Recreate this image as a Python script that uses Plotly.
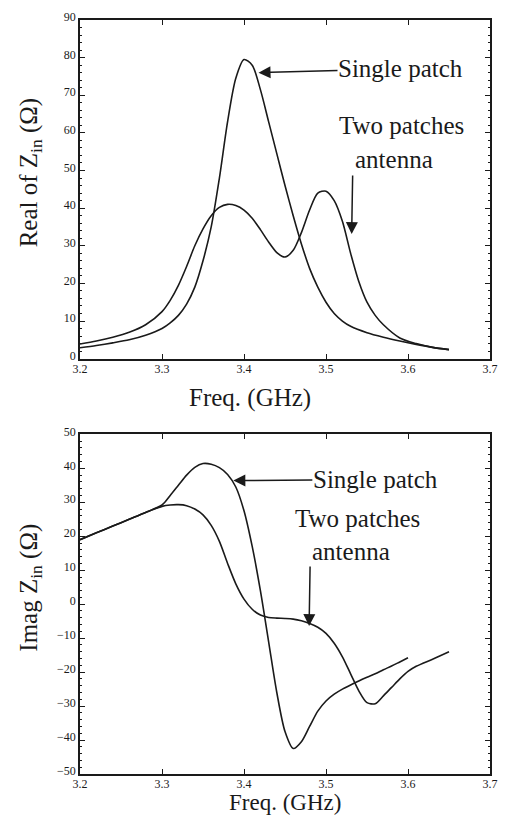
import plotly.graph_objects as go

# ---------------- data ----------------
freq_real_single = [3.20, 3.22, 3.24, 3.26, 3.28, 3.30, 3.31, 3.32, 3.33, 3.34, 3.35, 3.36, 3.37, 3.38,
                    3.39, 3.40, 3.41, 3.42, 3.43, 3.44, 3.45, 3.46, 3.47, 3.48, 3.49, 3.50, 3.51, 3.52,
                    3.53, 3.55, 3.57, 3.59, 3.61, 3.63, 3.65]
real_single = [2.9, 3.5, 4.2, 5.0, 6.2, 8.0, 9.5, 11.5, 14.5, 19, 26, 35, 48, 63,
               74.5, 79.5, 78, 71.5, 63, 54.5, 46, 38, 30.5, 24, 19, 15, 12, 10,
               8.6, 6.9, 5.7, 4.7, 3.8, 3.0, 2.4]

freq_real_two = [3.20, 3.22, 3.24, 3.26, 3.28, 3.30, 3.31, 3.32, 3.33, 3.34, 3.35, 3.36, 3.37, 3.38,
                 3.39, 3.40, 3.41, 3.42, 3.43, 3.44, 3.45, 3.46, 3.47, 3.48, 3.49, 3.50, 3.51, 3.52,
                 3.53, 3.54, 3.55, 3.56, 3.57, 3.59, 3.61, 3.63, 3.65]
real_two = [3.9, 4.7, 5.7, 7.0, 9.0, 12.5, 15.5, 19.5, 24.5, 30, 34.5, 38, 40.2, 41,
            40.7, 39.5, 37.3, 34.3, 31, 28.2, 27, 28.8, 33.5, 39.5, 44, 44.5, 42, 36.5,
            28, 20.5, 15, 11.5, 9, 5.5, 4.0, 3.0, 2.4]

freq_imag_single = [3.20, 3.22, 3.24, 3.26, 3.28, 3.30, 3.31, 3.32, 3.33, 3.34, 3.35, 3.36, 3.37, 3.38,
                    3.39, 3.40, 3.41, 3.42, 3.43, 3.44, 3.45, 3.46, 3.47, 3.48, 3.49, 3.50, 3.51, 3.52,
                    3.53, 3.54, 3.55, 3.56, 3.57, 3.58, 3.59, 3.60]
imag_single = [19, 21, 23, 25, 27, 29.2, 32, 35, 38, 40.3, 41.4, 41.2, 40.2, 38.2,
               34.5, 27.5, 17, 4, -11, -26, -37.5, -42.5, -40.5, -36, -31.5, -28.5, -26.5, -25,
               -23.8, -22.6, -21.5, -20.5, -19.3, -18.2, -17, -15.8]

freq_imag_two = [3.20, 3.22, 3.24, 3.26, 3.28, 3.30, 3.31, 3.32, 3.33, 3.34, 3.35, 3.36, 3.37, 3.38,
                 3.39, 3.40, 3.41, 3.42, 3.43, 3.44, 3.45, 3.46, 3.47, 3.48, 3.49, 3.50, 3.51, 3.52,
                 3.53, 3.54, 3.55, 3.56, 3.57, 3.58, 3.59, 3.60, 3.61, 3.63, 3.65]
imag_two = [19, 21, 23, 25, 27, 28.8, 29.2, 29.3, 29, 28, 26.3, 23.2, 18.5, 12,
            6, 1.5, -1.5, -3.2, -3.9, -4.1, -4.2, -4.4, -4.9, -5.7, -6.8, -8.6, -11.5, -15.5,
            -20.5, -25.5, -29, -29.3, -27, -24.5, -22, -19.8, -18.3, -16.2, -14]

x_ticks = [3.2, 3.3, 3.4, 3.5, 3.6, 3.7]
y_ticks_real = [0, 10, 20, 30, 40, 50, 60, 70, 80, 90]
y_ticks_imag = [-50, -40, -30, -20, -10, 0, 10, 20, 30, 40, 50]

# ---------------- layout geometry (pixels) ----------------
W, H = 508, 815
ML, MR, MT, MB = 80, 10, 17, 41
PW, PH = W - ML - MR, H - MT - MB


def px(xp):
    return (xp - ML) / PW


def py(yp):
    return (H - MB - yp) / PH


SERIF = "Liberation Serif"
INK = "#1a1a1a"

fig = go.Figure()
line = dict(color=INK, width=1.6, shape="spline", smoothing=0.8)
fig.add_trace(go.Scatter(x=freq_real_single, y=real_single, mode="lines", line=line,
                         xaxis="x", yaxis="y", name="Single patch"))
fig.add_trace(go.Scatter(x=freq_real_two, y=real_two, mode="lines", line=line,
                         xaxis="x", yaxis="y", name="Two patches antenna"))
fig.add_trace(go.Scatter(x=freq_imag_single, y=imag_single, mode="lines", line=line,
                         xaxis="x2", yaxis="y2", name="Single patch"))
fig.add_trace(go.Scatter(x=freq_imag_two, y=imag_two, mode="lines", line=line,
                         xaxis="x2", yaxis="y2", name="Two patches antenna"))

axis_common = dict(showline=True, linecolor=INK, linewidth=1.6, mirror="ticks",
                   ticks="inside", ticklen=5, tickwidth=1.3, tickcolor=INK,
                   showgrid=False, zeroline=False,
                   tickfont=dict(family=SERIF, size=12, color=INK))

top_dom = [py(357), py(17)]
bot_dom = [py(774), py(433)]

fig.update_layout(
    width=W, height=H,
    margin=dict(l=ML, r=MR, t=MT, b=MB),
    paper_bgcolor="white", plot_bgcolor="white",
    showlegend=False,
    xaxis=dict(domain=[0, 1], anchor="y", range=[3.2, 3.7], tickvals=x_ticks,
               ticktext=[f"{v:.1f}" for v in x_ticks], ticklabelstandoff=-2, **axis_common),
    yaxis=dict(domain=top_dom, anchor="x", range=[0, 90], tickvals=y_ticks_real,
               ticklabelshift=-3,
               minor=dict(ticks="inside", ticklen=2, dtick=2, tickcolor=INK), **axis_common),
    xaxis2=dict(domain=[0, 1], anchor="y2", range=[3.2, 3.7], tickvals=x_ticks,
                ticktext=[f"{v:.1f}" for v in x_ticks], ticklabelstandoff=-2, **axis_common),
    yaxis2=dict(domain=bot_dom, anchor="x2", range=[-50, 50], tickvals=y_ticks_imag,
                ticklabelshift=-3,
                minor=dict(ticks="inside", ticklen=2, dtick=2, tickcolor=INK), **axis_common),
)

TF = dict(family=SERIF, size=25, color=INK)


def text(xp, yp, s, angle=0, size=25):
    fig.add_annotation(x=px(xp), y=py(yp), xref="paper", yref="paper", text=s,
                       showarrow=False, xanchor="center", yanchor="middle",
                       textangle=angle, font=dict(TF, size=size))


def label_arrow(xa, ya, xd, yd, ax, ay, s):
    # text centred at offset (ax, ay) px from the arrow tip
    fig.add_annotation(x=xd, y=yd, xref=xa, yref=ya, text=s, showarrow=True,
                       arrowhead=2, arrowsize=1.6, arrowwidth=1.5, arrowcolor=INK,
                       ax=ax, ay=ay, axref="pixel", ayref="pixel", standoff=0,
                       borderpad=0, font=TF)


def arrow(xa, ya, xd, yd, ax, ay):
    fig.add_annotation(x=xd, y=yd, xref=xa, yref=ya, text="", showarrow=True,
                       arrowhead=2, arrowsize=1.6, arrowwidth=1.5, arrowcolor=INK,
                       ax=ax, ay=ay, axref="pixel", ayref="pixel", standoff=0)


# axis titles
text(253, 397, "Freq. (GHz)")
text(289, 803, "Freq. (GHz)", size=23)
text(29, 170, "Real of Z<sub>in</sub> (Ω)", angle=-90)
text(30, 587, "Imag Z<sub>in</sub> (Ω)", angle=-90)

# top panel labels
label_arrow("x", "y", 3.4177, 76, 142, -4, "Single patch")
text(408, 123, "Two patches")
text(400, 157, "antenna")
arrow("x", "y", 3.5313, 33.1, 1, -60)

# bottom panel labels
label_arrow("x2", "y2", 3.387, 36.4, 142, -1, "Single patch")
text(363, 517, "Two patches")
text(356, 551, "antenna")
arrow("x2", "y2", 3.4794, -6.45, 1, -61)

fig.write_html("out.html")
